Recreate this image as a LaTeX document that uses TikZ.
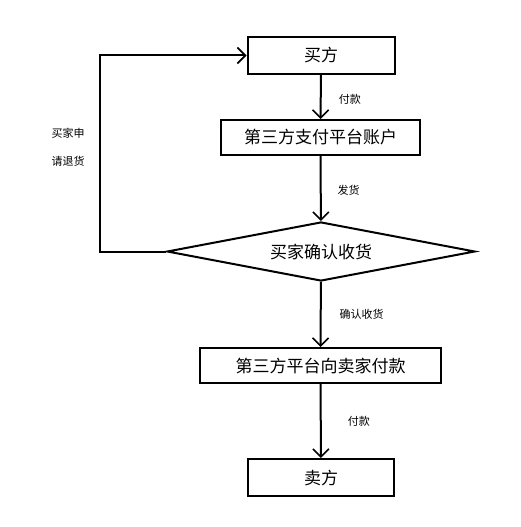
\documentclass[tikz,border=0pt]{standalone}
\usepackage{fontspec}
\newfontfamily\cjk{Noto Sans CJK SC}
\usetikzlibrary{arrows.meta,shapes.geometric}

\tikzset{
  box/.style={draw,line width=2pt,minimum height=37pt,inner sep=0pt,font=\cjk\fontsize{17}{17}\selectfont},
  lbl/.style={font=\cjk\fontsize{11}{11}\selectfont,inner sep=0pt},
  flow/.style={line width=2pt,-{Straight Barb[length=8pt,width=16pt,line width=1.6pt]}}
}

\begin{document}
\begin{tikzpicture}[x=1pt,y=-1pt]
\useasboundingbox (0,0) rectangle (520,527);

\node[box,minimum width=147pt] (buyer) at (321,55.5) {买方};
\node[box,minimum width=199pt,minimum height=35pt] (account) at (320.5,137.5) {第三方支付平台账户};
\node[draw,line width=2pt,diamond,aspect=5.2,inner sep=0pt,minimum width=308pt,minimum height=59pt,
  font=\cjk\fontsize{17}{17}\selectfont] (confirm) at (321,251.5) {买家确认收货};
\node[box,minimum width=241pt,minimum height=35pt] (pay) at (320.5,365.5) {第三方平台向卖家付款};
\node[box,minimum width=146pt] (seller) at (321,477.5) {卖方};

\coordinate (c1) at (100,251.5);
\coordinate (c2) at (100,55.5);

\draw[flow] (buyer) -- node[lbl,right=17pt,yshift=-2pt] {付款} (account);
\draw[flow] (account) -- node[lbl,right=16pt,yshift=-2pt] {发货} (confirm);
\draw[flow] (confirm) -- node[lbl,right=18pt] {确认收货} (pay);
\draw[flow] (pay) -- node[lbl,right=26pt] {付款} (seller);
\draw[flow] (confirm.west) -- (c1) -- (c2) -- (buyer.west);

\node[lbl] (back1) at (68,133) {买家申};
\node[lbl] (back2) at (68,161) {请退货};
\end{tikzpicture}
\end{document}
